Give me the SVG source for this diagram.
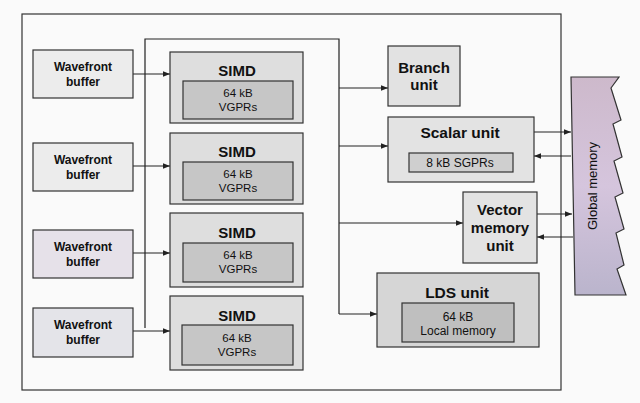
<svg xmlns="http://www.w3.org/2000/svg" width="640" height="403" viewBox="0 0 640 403">
<defs>
<marker id="ah" viewBox="0 0 10 10" refX="10" refY="5" markerWidth="7" markerHeight="7" markerUnits="userSpaceOnUse" orient="auto">
<path d="M0,1 L10,5 L0,9 z" fill="#222"/>
</marker>
<linearGradient id="gm" x1="0" y1="0" x2="0" y2="1">
<stop offset="0" stop-color="#cdb9cb"/>
<stop offset="0.5" stop-color="#d5c5dd"/>
<stop offset="1" stop-color="#bab4cc"/>
</linearGradient>
</defs>
<style>
.box{stroke:#333;stroke-width:1.2}
.wf{fill:#ececec}
.outer{fill:#dedede}
.inner{fill:#c6c6c6}
.b{font-family:"Liberation Sans",Arial,sans-serif;font-weight:bold;fill:#111;text-anchor:middle}
.r{font-family:"Liberation Sans",Arial,sans-serif;fill:#111;text-anchor:middle;font-size:11.5px}
.ln{fill:none;stroke:#222;stroke-width:1.2}
</style>
<rect width="640" height="403" fill="#fafafa"/>
<rect id="frame" x="22" y="14" width="539" height="376" fill="none" stroke="#333" stroke-width="1.2"/>

<g id="connectors">
<path class="ln" d="M145,328 V39 H339 V314"/>
<line class="ln" x1="133" y1="74" x2="170" y2="74" marker-end="url(#ah)"/>
<line class="ln" x1="133" y1="166" x2="170" y2="166" marker-end="url(#ah)"/>
<line class="ln" x1="133" y1="253" x2="170" y2="253" marker-end="url(#ah)"/>
<line class="ln" x1="133" y1="331" x2="170" y2="331" marker-end="url(#ah)"/>
<line class="ln" x1="339" y1="88" x2="388" y2="88" marker-end="url(#ah)"/>
<line class="ln" x1="339" y1="146" x2="388" y2="146" marker-end="url(#ah)"/>
<line class="ln" x1="339" y1="223" x2="463" y2="223" marker-end="url(#ah)"/>
<line class="ln" x1="339" y1="314" x2="377" y2="314" marker-end="url(#ah)"/>
<line class="ln" x1="534" y1="132" x2="571" y2="132" marker-end="url(#ah)"/>
<line class="ln" x1="571" y1="156" x2="534" y2="156" marker-end="url(#ah)"/>
<line class="ln" x1="537" y1="214" x2="572" y2="214" marker-end="url(#ah)"/>
<line class="ln" x1="573" y1="237" x2="537" y2="237" marker-end="url(#ah)"/>
</g>

<g id="wf1"><rect class="box wf" x="33" y="50" width="100" height="48"/>
<text class="b" font-size="12" x="83" y="71">Wavefront</text><text class="b" font-size="12" x="83" y="85.5">buffer</text></g>
<g id="wf2"><rect class="box wf" x="33" y="143" width="100" height="48"/>
<text class="b" font-size="12" x="83" y="164">Wavefront</text><text class="b" font-size="12" x="83" y="178.5">buffer</text></g>
<g id="wf3"><rect class="box" fill="#e6e1e9" x="33" y="230" width="100" height="48"/>
<text class="b" font-size="12" x="83" y="251">Wavefront</text><text class="b" font-size="12" x="83" y="265.5">buffer</text></g>
<g id="wf4"><rect class="box" fill="#e4e4e9" x="33" y="308" width="100" height="49"/>
<text class="b" font-size="12" x="83" y="329">Wavefront</text><text class="b" font-size="12" x="83" y="343.5">buffer</text></g>

<g id="simd1"><rect class="box outer" x="170" y="52" width="133" height="71"/>
<text class="b" font-size="15" x="237" y="75.5">SIMD</text>
<rect class="box inner" x="183" y="81" width="110" height="38"/>
<text class="r" x="238" y="97">64 kB</text><text class="r" x="238" y="111">VGPRs</text></g>
<g id="simd2"><rect class="box outer" x="170" y="133" width="133" height="71"/>
<text class="b" font-size="15" x="237" y="156.5">SIMD</text>
<rect class="box inner" x="183" y="162" width="110" height="38"/>
<text class="r" x="238" y="178">64 kB</text><text class="r" x="238" y="192">VGPRs</text></g>
<g id="simd3"><rect class="box outer" x="170" y="213" width="133" height="74"/>
<text class="b" font-size="15" x="237" y="237.5">SIMD</text>
<rect class="box inner" x="183" y="243" width="110" height="39"/>
<text class="r" x="238" y="259">64 kB</text><text class="r" x="238" y="273">VGPRs</text></g>
<g id="simd4"><rect class="box outer" x="170" y="296" width="133" height="74"/>
<text class="b" font-size="15" x="237" y="320.5">SIMD</text>
<rect class="box inner" x="182" y="325" width="111" height="40"/>
<text class="r" x="237" y="342">64 kB</text><text class="r" x="237" y="356">VGPRs</text></g>

<g id="branch"><rect class="box" fill="#e2e2e2" x="388" y="46" width="72" height="60"/>
<text class="b" font-size="15" x="424" y="72.5">Branch</text><text class="b" font-size="15" x="424" y="89.5">unit</text></g>

<g id="scalar"><rect class="box" fill="#e3e3e3" x="388" y="117" width="146" height="65"/>
<text class="b" font-size="15.5" x="460" y="137.5">Scalar unit</text>
<rect class="box" fill="#cfcfcf" x="409" y="153" width="104" height="19"/>
<text class="r" font-size="12" style="font-size:12px" x="460" y="166.5">8 kB SGPRs</text></g>

<g id="vmu"><rect class="box" fill="#e3e3e3" x="463" y="192" width="74" height="71"/>
<text class="b" font-size="15" x="500" y="214.5">Vector</text><text class="b" font-size="15" x="500" y="232.5">memory</text><text class="b" font-size="15" x="500" y="250.5">unit</text></g>

<g id="lds"><rect class="box" fill="#d6d6d6" x="377" y="273" width="162" height="74"/>
<text class="b" font-size="15.5" x="457" y="297.5">LDS unit</text>
<rect class="box" fill="#bfbfbf" x="402" y="303" width="112" height="39"/>
<text class="r" style="font-size:12px" x="458" y="320.5">64 kB</text><text class="r" style="font-size:12px" x="458" y="334.5">Local memory</text></g>

<g id="global">
<path d="M571,77 L619,77 L611,88 L621,120 L613,124 L622,157 L614,161 L623,193 L615,197 L624,229 L616,233 L624,265 L617,269 L626,295 L575,295 Z" fill="url(#gm)" stroke="#333" stroke-width="1.2"/>
<text class="r" style="font-size:13px" transform="translate(597,186) rotate(-90)">Global memory</text>
</g>
</svg>
